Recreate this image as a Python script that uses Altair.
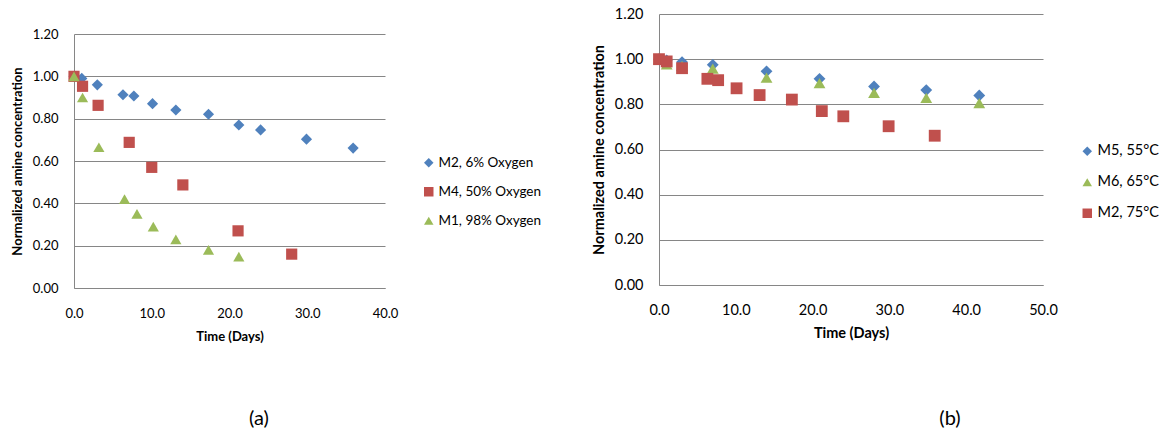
import altair as alt
import pandas as pd

FONT = "Lato"
GRID = "#868686"

# ---------------- data ----------------
a_series = ["M2, 6% Oxygen", "M4, 50% Oxygen", "M1, 98% Oxygen"]
b_series = ["M5, 55°C", "M6, 65°C", "M2, 75°C"]

m2_days = [0.0, 1.0, 3.0, 6.3, 7.7, 10.1, 13.1, 17.3, 21.2, 24.0, 29.9, 35.9]
m2_vals = [1.00, 0.99, 0.96, 0.913, 0.907, 0.871, 0.841, 0.821, 0.770, 0.747, 0.703, 0.661]

m4_days = [0.0, 1.1, 3.1, 7.1, 10.0, 14.0, 21.1, 28.0]
m4_vals = [1.00, 0.953, 0.863, 0.688, 0.570, 0.487, 0.270, 0.160]

m1_days = [0.0, 1.1, 3.2, 6.5, 8.1, 10.2, 13.1, 17.3, 21.2]
m1_vals = [1.00, 0.90, 0.665, 0.42, 0.35, 0.29, 0.23, 0.18, 0.148]

m5_days = [0.0, 1.0, 3.0, 7.0, 14.0, 20.9, 28.0, 34.8, 41.7]
m5_vals = [1.00, 0.995, 0.987, 0.975, 0.946, 0.913, 0.879, 0.863, 0.839]

m6_days = [0.0, 1.0, 3.0, 7.0, 14.0, 20.9, 28.0, 34.8, 41.7]
m6_vals = [1.00, 0.977, 0.970, 0.958, 0.918, 0.894, 0.851, 0.829, 0.805]

x_ticks_a = [0, 10, 20, 30, 40]
x_ticks_b = [0, 10, 20, 30, 40, 50]
y_ticks = [0.0, 0.2, 0.4, 0.6, 0.8, 1.0, 1.2]
captions = ["(a)", "(b)"]

colors_a = ["#4F81BD", "#C0504D", "#9BBB59"]
shapes_a = ["diamond", "square", "triangle-up"]
colors_b = ["#4F81BD", "#9BBB59", "#C0504D"]
shapes_b = ["diamond", "triangle-up", "square"]


def frame(series_list):
    rows = []
    k = 0
    for name, days, vals in series_list:
        for d, v in zip(days, vals):
            rows.append({"day": d, "val": v, "series": name, "k": k})
            k += 1
    return pd.DataFrame(rows)


df_a = frame([(a_series[0], m2_days, m2_vals),
              (a_series[1], m4_days, m4_vals),
              (a_series[2], m1_days, m1_vals)])
df_b = frame([(b_series[0], m5_days, m5_vals),
              (b_series[1], m6_days, m6_vals),
              (b_series[2], m2_days, m2_vals)])


def panel(df, series, colors, shapes, xmax, xticks, w, h, top, fs, lfs, size,
          lx, ly, rowpad, loff, xlabpad, xtitlepad, caption, capx, capy):
    legend = alt.Legend(title=None, orient="none", legendX=lx, legendY=ly,
                        padding=0, rowPadding=rowpad, labelFont=FONT,
                        labelFontSize=lfs, labelColor="black", symbolSize=90,
                        symbolStrokeWidth=0, symbolOpacity=1, labelOffset=loff)
    pts = alt.Chart(df).mark_point(filled=True, opacity=1, size=size, strokeWidth=0).encode(
        x=alt.X("day:Q", scale=alt.Scale(domain=[0, xmax], nice=False, zero=True),
                axis=alt.Axis(values=xticks, format=".1f", title="Time (Days)", grid=False,
                              ticks=False, labelPadding=xlabpad, titlePadding=xtitlepad,
                              labelFont=FONT, titleFont=FONT, labelFontSize=fs,
                              titleFontSize=fs, titleFontWeight="bold", labelFlush=False,
                              domainColor=GRID, labelColor="black", titleColor="black")),
        y=alt.Y("val:Q", scale=alt.Scale(domain=[0, 1.2], nice=False, range=[h, top]),
                axis=alt.Axis(values=y_ticks, format=".2f",
                              title="Normalized amine concentration", grid=True,
                              gridColor=GRID, ticks=False, labelPadding=16, titlePadding=8,
                              labelFont=FONT, titleFont=FONT, labelFontSize=fs,
                              titleFontSize=fs, titleFontWeight="bold", labelFlush=False,
                              domainColor=GRID, labelColor="black", titleColor="black")),
        color=alt.Color("series:N", scale=alt.Scale(domain=series, range=colors), legend=legend),
        shape=alt.Shape("series:N", scale=alt.Scale(domain=series, range=shapes), legend=legend),
        order=alt.Order("k:Q"),
    )
    cap = alt.Chart(pd.DataFrame({"t": [caption]})).mark_text(
        font=FONT, fontSize=20, color="black", baseline="middle", align="center"
    ).encode(text="t:N", x=alt.value(capx), y=alt.value(capy))
    return alt.layer(pts, cap).properties(width=w, height=h)


pa = panel(df_a, a_series, colors_a, shapes_a, 40, x_ticks_a, 311, 274, 20, 13, 13.5, 125,
           348, 142, 14, 3, 19, 10, captions[0], 185, 405)
pb = panel(df_b, b_series, colors_b, shapes_b, 50, x_ticks_b, 384, 271, 0, 14.5, 14.5, 140,
           421, 130, 16, 3, 18, 10, captions[1], 291, 405)

chart = alt.hconcat(pa, pb, spacing=49).resolve_scale(
    x="independent", y="independent", color="independent", shape="independent"
).resolve_legend(color="independent", shape="independent").properties(
    padding={"left": 11, "top": 6, "right": 0, "bottom": 0}
).configure_view(stroke=None)

chart.save("out.html", embed_options={"renderer": "svg", "actions": False})
